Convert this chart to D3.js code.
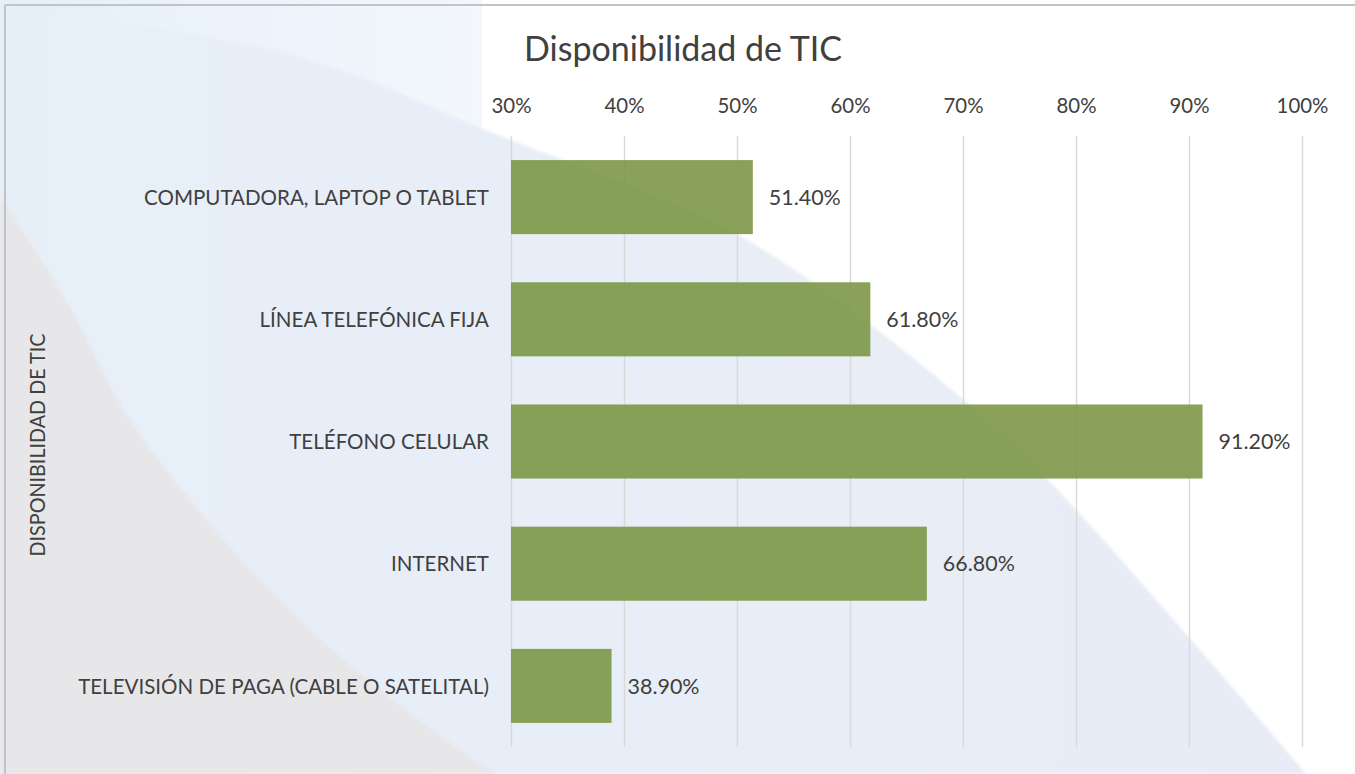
<!DOCTYPE html>
<html><head><meta charset="utf-8">
<script src="https://cdn.jsdelivr.net/npm/d3@7"></script>
<style>html,body{margin:0;padding:0;background:#fff;overflow:hidden}</style>
</head><body><svg id="c" width="1355" height="774"></svg>
<script>
// ---- data ----
const categories = ["COMPUTADORA, LAPTOP O TABLET", "LÍNEA TELEFÓNICA FIJA", "TELÉFONO CELULAR", "INTERNET", "TELEVISIÓN DE PAGA (CABLE O SATELITAL)"];
const values = [0.514, 0.618, 0.912, 0.668, 0.389];
const xTicks = [0.3, 0.4, 0.5, 0.6, 0.7, 0.8, 0.9, 1.0];
const chartTitle = "Disponibilidad de TIC";
const yAxisTitle = "DISPONIBILIDAD DE TIC";

// ---- decoration (background shapes) ----
const bgSweep = [[0,6],[300,57],[493,133],[740,236],[964,400],[1048,480],[1200,650],[1306,774]];
const bgGray = [[0,195],[67,302],[130,420],[233,550],[333,650],[433,730],[497,774]];

const W = 1355, H = 774;
const svg = d3.select("#c");
const FONT = "Lato, 'Open Sans', sans-serif";
const TXT = "#404040";

const defs = svg.append("defs");
const g1 = defs.append("linearGradient").attr("id","band").attr("x1","0").attr("x2","1").attr("y1","0").attr("y2","0");
g1.append("stop").attr("offset","0").attr("stop-color","#e5eff9");
g1.append("stop").attr("offset","1").attr("stop-color","#f3f7fc");
const g2 = defs.append("linearGradient").attr("id","sweep").attr("x1","0").attr("x2","1").attr("y1","0").attr("y2","0");
g2.append("stop").attr("offset","0").attr("stop-color","#e6eff8");
g2.append("stop").attr("offset","0.4").attr("stop-color","#e8eef7");
g2.append("stop").attr("offset","1").attr("stop-color","#e8ebf5");
defs.append("filter").attr("id","soft").append("feGaussianBlur").attr("stdDeviation","1.5");

svg.append("rect").attr("width",W).attr("height",H).attr("fill","#ffffff");
svg.append("rect").attr("x",0).attr("y",0).attr("width",482).attr("height",H).attr("fill","url(#band)");

const curve = d3.line().curve(d3.curveCatmullRom);
svg.append("path")
  .attr("d", curve(bgSweep) + `L${W},${H}L0,${H}Z`)
  .attr("fill","url(#sweep)").attr("filter","url(#soft)");
svg.append("path")
  .attr("d", curve(bgGray) + `L0,${H}Z`)
  .attr("fill","#e7e7e9").attr("filter","url(#soft)");

// frame
svg.append("line").attr("x1",5).attr("x2",W).attr("y1",5).attr("y2",5).attr("stroke","#c3c3c3").attr("stroke-width",2);
svg.append("line").attr("x1",5).attr("x2",5).attr("y1",5).attr("y2",H).attr("stroke","#c3c3c3").attr("stroke-width",2);

// ---- scales ----
const plot = {left: 511, right: 1302, top: 136, bottom: 747};
const x = d3.scaleLinear().domain([0.3, 1.0]).range([plot.left, plot.right]);
const y = d3.scaleBand().domain(categories).range([plot.top, plot.bottom]).paddingInner(0.394).paddingOuter(0.197);

// fit helper: scale text horizontally to a target width for a reference string
function fitGroup(sel, refWidth, refText) {
  let k = 1;
  sel.each(function() {
    if (this.textContent === refText) k = refWidth / this.getComputedTextLength();
  });
  sel.each(function() {
    const w = this.getComputedTextLength();
    d3.select(this).attr("textLength", w * k).attr("lengthAdjust", "spacingAndGlyphs");
  });
}

// ---- axis + gridlines ----
const ax = svg.append("g").attr("transform", `translate(0,${plot.top})`)
  .call(d3.axisTop(x).tickValues(xTicks).tickFormat(d3.format(".0%"))
    .tickSize(-(plot.bottom - plot.top)).tickPadding(23));
ax.select(".domain").remove();
ax.selectAll(".tick line").attr("stroke","#d9d9d9").attr("stroke-width",1.4);
ax.selectAll(".tick text").attr("fill",TXT).attr("font-family",FONT).attr("font-size",22);
fitGroup(ax.selectAll(".tick text"), 40, "30%");

// ---- bars ----
svg.append("g").selectAll("rect").data(values).join("rect")
  .attr("x", x(0.3))
  .attr("y", (d,i) => y(categories[i]))
  .attr("width", d => x(d) - x(0.3))
  .attr("height", y.bandwidth())
  .attr("fill", "#7c9746").attr("fill-opacity", 0.9);

// value labels
const vl = svg.append("g").selectAll("text").data(values).join("text")
  .attr("x", d => x(d) + 16)
  .attr("y", (d,i) => y(categories[i]) + y.bandwidth()/2)
  .attr("dy", "0.35em")
  .attr("fill", TXT).attr("font-family", FONT).attr("font-size", 22)
  .text(d => d3.format(".2%")(d));
fitGroup(vl, 72, "51.40%");

// category labels
const cl = svg.append("g").selectAll("text").data(categories).join("text")
  .attr("x", plot.left - 22)
  .attr("y", d => y(d) + y.bandwidth()/2)
  .attr("dy", "0.35em")
  .attr("text-anchor", "end")
  .attr("fill", TXT).attr("font-family", FONT).attr("font-size", 22)
  .text(d => d);
fitGroup(cl, 345, "COMPUTADORA, LAPTOP O TABLET");

// axis title (rotated)
const yt = svg.append("text")
  .attr("transform", "translate(45,445) rotate(-90)")
  .attr("text-anchor", "middle")
  .attr("fill", TXT).attr("font-family", FONT).attr("font-size", 22)
  .text(yAxisTitle);
fitGroup(yt, 223, yAxisTitle);

// chart title
const tt = svg.append("text")
  .attr("x", 683).attr("y", 61)
  .attr("text-anchor", "middle")
  .attr("fill", TXT).attr("font-family", FONT).attr("font-size", 34)
  .text(chartTitle);
fitGroup(tt, 318, chartTitle);
</script>
</body></html>
